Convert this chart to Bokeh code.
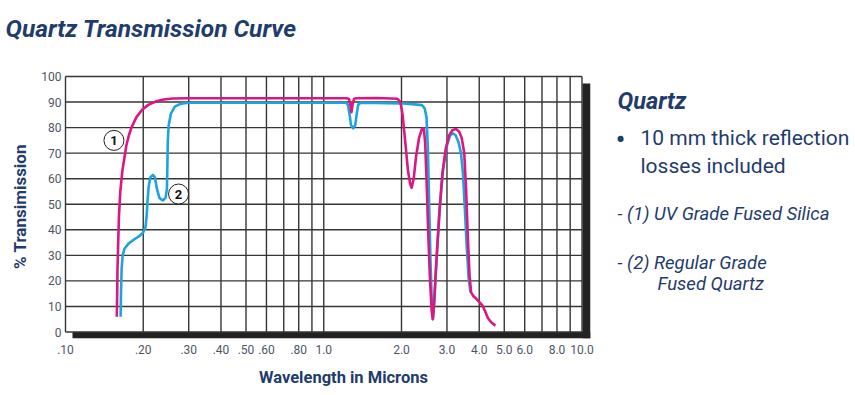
from bokeh.plotting import figure
from bokeh.layouts import row, column
from bokeh.models import FixedTicker, Range1d
from bokeh.embed import file_html
from bokeh.resources import INLINE
from bokeh.core.properties import value

# ---- data -------------------------------------------------------------
uv_wl = [0.158, 0.1585, 0.159, 0.160, 0.161, 0.163, 0.166, 0.169, 0.172, 0.176,
         0.180, 0.188, 0.198, 0.21, 0.225, 0.24, 0.26, 0.30, 0.5, 1.0,
         1.22, 1.25, 1.265, 1.28, 1.295, 1.31, 1.34, 1.6, 1.93, 1.98,
         2.02, 2.07, 2.12, 2.16, 2.19, 2.23, 2.28, 2.34, 2.40, 2.44,
         2.47, 2.50, 2.54, 2.58, 2.62, 2.645, 2.67, 2.72, 2.80, 2.88,
         2.97, 3.06, 3.15, 3.25, 3.34, 3.42, 3.50, 3.56, 3.62, 3.67,
         3.72, 3.80, 3.90, 4.02, 4.12, 4.22, 4.32, 4.45, 4.62]
uv_t = [6, 15, 25, 35, 45, 55, 63, 68, 73, 77,
        80, 84, 87, 89, 90.3, 91, 91.4, 91.5, 91.5, 91.5,
        91.5, 91.3, 89.5, 86, 89.5, 91.3, 91.5, 91.6, 91.3, 90,
        85, 74, 63, 58, 56.5, 60, 69, 76, 79.5, 79.8,
        74, 60, 38, 20, 8, 5, 10, 25, 46, 62,
        72, 77, 79, 79.5, 78.5, 76, 70, 55, 35, 22,
        15.5, 14, 13, 11.5, 10.3, 8, 5.5, 3.8, 2.5]

reg_wl = [0.1635, 0.164, 0.165, 0.1665, 0.169, 0.175, 0.183, 0.193, 0.200, 0.204,
          0.206, 0.208, 0.210, 0.213, 0.218, 0.222, 0.226, 0.231, 0.238, 0.244,
          0.247, 0.248, 0.249, 0.251, 0.256, 0.265, 0.28, 0.30, 1.0, 1.22,
          1.24, 1.26, 1.275, 1.30, 1.325, 1.34, 1.36, 1.39, 2.0, 2.3,
          2.40, 2.46, 2.50, 2.53, 2.56, 2.59, 2.62, 2.645, 2.68, 2.74,
          2.82, 2.90, 3.00, 3.08, 3.16, 3.24, 3.32, 3.40, 3.46, 3.52,
          3.58, 3.64, 3.70]
reg_t = [6, 15, 25, 30, 32.5, 34.5, 36, 37.5, 39, 41,
         45, 52, 57, 60.5, 61.5, 60.5, 56, 52.5, 51.5, 52.5,
         56, 65, 75, 81, 85.5, 88.2, 89.4, 89.7, 89.7, 89.7,
         89, 85, 81, 79.7, 81, 85, 89, 89.7, 89.5, 89,
         88.8, 87.5, 84, 72, 50, 28, 12, 5, 12, 30,
         50, 64, 73, 76.8, 77.8, 77, 74.5, 70, 62, 48,
         33, 21, 15.5]

grid_x = [0.1, 0.2, 0.3, 0.4, 0.5, 0.6, 0.7, 0.8, 0.9, 1.0,
          2, 3, 4, 5, 6, 7, 8, 9, 10]
grid_y = [0, 10, 20, 30, 40, 50, 60, 70, 80, 90, 100]
x_tick_vals = [0.1, 0.2, 0.3, 0.4, 0.5, 0.6, 0.8, 1.0, 2, 3, 4, 5, 6, 8, 10]
x_tick_labels = [".10", ".20", ".30", ".40", ".50", ".60", ".80", "1.0",
                 "2.0", "3.0", "4.0", "5.0", "6.0", "8.0", "10.0"]

# ---- layout (canvas pixels) --------------------------------------------
W, H = 855, 395
LW = 600                              # width of left column
TITLE_H, XLAB_H = 48, 33
MAIN_H = H - TITLE_H - XLAB_H         # 314
PPD = 258.25                          # pixels per decade on x
PPU = 2.555                           # pixels per % on y
X0PX, Y0PX = 65.0, 331.5              # pixel of x=0.1 and y=0
FL, FR, FT, FB = 63, 590, 74, 338     # frame edges


def px_x(px):
    return 0.1 * 10 ** ((px - X0PX) / PPD)


def px_y(py):
    return (Y0PX - py) / PPU


NAVY = "#1f3c6c"
PINK = "#dc1682"
BLUE = "#1ea4dc"
FONT = "Roboto"


def text_fig(w, h, x0, x1, y0, y1, bl=0, br=0):
    f = figure(width=w, height=h, x_range=Range1d(x0, x1), y_range=Range1d(y1, y0),
               x_axis_location=None, y_axis_location=None,
               min_border_left=bl, min_border_right=br, min_border_top=0, min_border_bottom=0,
               toolbar_location=None, output_backend="svg", title=None)
    f.outline_line_color = None
    f.grid.visible = False
    return f


def txt(f, x, y, s, size, style="normal", align="left", baseline="alphabetic", color=NAVY):
    f.text(x=[x], y=[y], text=[s], text_font=value(FONT), text_font_size=size,
           text_font_style=style, text_color=color, text_align=align,
           text_baseline=baseline)


# title strip (full width)
title_fig = text_fig(W, TITLE_H, 0, W, 0, TITLE_H)
txt(title_fig, 5, 28, "Quartz Transmission Curve", "24.5px", "bold italic")

# main chart
p = figure(width=LW, height=MAIN_H, x_axis_type="log",
           x_range=Range1d(px_x(FL), px_x(FR)), y_range=Range1d(px_y(FB), px_y(FT)),
           output_backend="svg", toolbar_location=None, title=None,
           min_border_left=FL, min_border_right=LW - FR,
           min_border_top=FT - TITLE_H, min_border_bottom=TITLE_H + MAIN_H - FB)
p.outline_line_color = None
p.grid.visible = False

# drop shadow
p.quad(left=[px_x(582), px_x(72)], right=[px_x(FR), px_x(FR)],
       bottom=[px_y(FB), px_y(FB)], top=[px_y(83), 0],
       fill_color="#222222", line_color=None)

# grid
p.segment(x0=grid_x, y0=[0] * len(grid_x), x1=grid_x, y1=[100] * len(grid_x),
          line_color="#363636", line_width=1.4)
p.segment(x0=[grid_x[0]] * len(grid_y), y0=grid_y, x1=[grid_x[-1]] * len(grid_y), y1=grid_y,
          line_color="#363636", line_width=1.4)

# curves
p.line(reg_wl, reg_t, line_color=BLUE, line_width=2.6, line_join="round")
p.line(uv_wl, uv_t, line_color=PINK, line_width=2.6, line_join="round")

# callouts
p.scatter(x=[0.154, 0.274], y=[75, 54], size=20, fill_color="white",
          line_color="#222222", line_width=1)
p.text(x=[0.154, 0.274], y=[75, 54], text=["1", "2"], text_align="center",
       text_baseline="middle", text_font=value(FONT),
       text_font_size="13px", text_font_style="bold", text_color="#111111")

# axes
xa = p.xaxis[0]
xa.ticker = FixedTicker(ticks=x_tick_vals)
xa.major_label_overrides = {v: s for v, s in zip(x_tick_vals, x_tick_labels)}
ya = p.yaxis[0]
ya.ticker = FixedTicker(ticks=grid_y)
for ax in (xa, ya):
    ax.axis_line_color = None
    ax.major_tick_line_color = None
    ax.minor_tick_line_color = None
    ax.major_tick_out = 0
    ax.major_tick_in = 0
    ax.major_label_text_font = FONT
    ax.major_label_text_font_size = "12px"
    ax.major_label_text_color = "#4d5668"
xa.major_label_standoff = 6
ya.major_label_standoff = 2
ya.axis_label = "% Transimission"
ya.axis_label_text_font = FONT
ya.axis_label_text_font_size = "17px"
ya.axis_label_text_font_style = "bold"
ya.axis_label_text_color = NAVY
ya.axis_label_standoff = 8

# x axis title (frame aligned with the chart's frame)
xlab_fig = text_fig(LW, XLAB_H, FL, FR, TITLE_H + MAIN_H, H, bl=FL, br=LW - FR)
txt(xlab_fig, 343, 377, "Wavelength in Microns", "16.5px", "bold", align="center", baseline="middle")

# side notes
side = text_fig(W - LW, H - TITLE_H, LW, W, TITLE_H, H)
txt(side, 617, 100, "Quartz", "23.5px", "bold italic")
txt(side, 620, 139, "\u2022", "30px", align="center")
txt(side, 640, 137, "10 mm thick reflection", "21px")
txt(side, 640, 165, "losses included", "21px")
txt(side, 617, 213, "- (1) UV Grade Fused Silica", "18.5px", "italic")
txt(side, 617, 262, "- (2) Regular Grade", "18.5px", "italic")
txt(side, 657, 283, "Fused Quartz", "18.5px", "italic")

layout = column(title_fig, row(column(p, xlab_fig), side))
open("out.html", "w").write(file_html(layout, INLINE))
